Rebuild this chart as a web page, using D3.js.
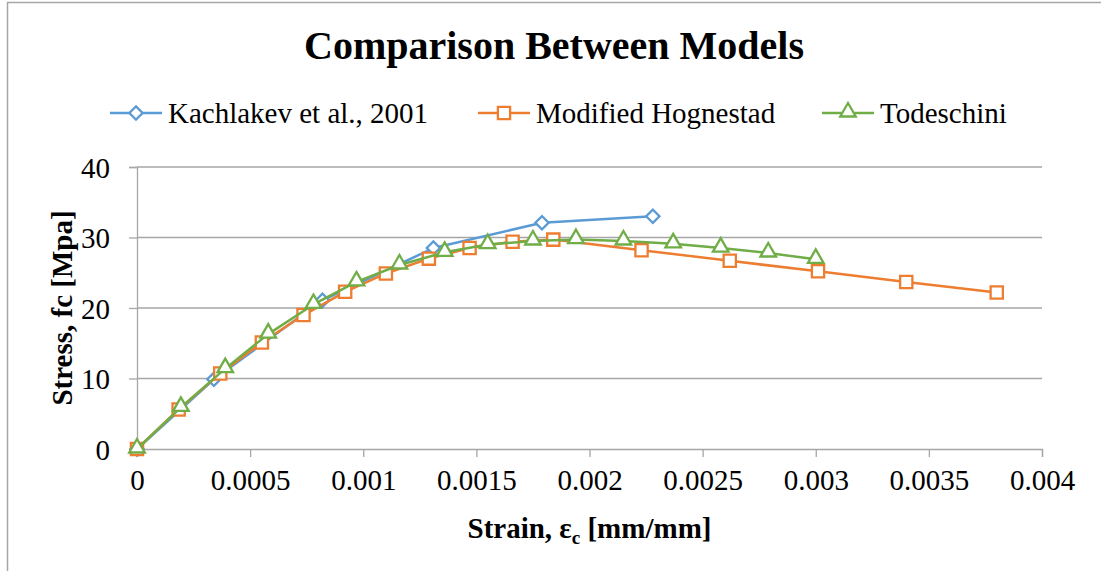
<!DOCTYPE html>
<html>
<head>
<meta charset="utf-8">
<script src="https://cdn.jsdelivr.net/npm/d3@7"></script>
<style>
  body { margin: 0; background: #fff; }
  svg { display: block; }
  svg text { font-family: "Liberation Serif", "Times New Roman", serif; }
</style>
</head>
<body>
<div id="chart"></div>
<script>
// values
const seriesNames = ['Kachlakev et al., 2001', 'Modified Hognestad', 'Todeschini'];

const kachStrain = [0, 0.00034, 0.00082, 0.00131, 0.00179, 0.00228];
const kachStress = [0, 9.9, 21.1, 28.5, 32.1, 33.0];

const hogStrain = [0, 0.000184, 0.000368, 0.000552, 0.000736, 0.00092, 0.0011, 0.00129,
  0.00147, 0.00166, 0.00184, 0.00223, 0.00262, 0.00301, 0.0034, 0.0038];
const hogStress = [0, 5.6, 10.7, 15.1, 19.0, 22.3, 24.9, 27.0,
  28.5, 29.4, 29.7, 28.2, 26.7, 25.2, 23.7, 22.2];

const todStrain = [0, 0.000194, 0.00039, 0.00058, 0.00078, 0.00097, 0.00116, 0.00136,
  0.00155, 0.00175, 0.00194, 0.00215, 0.00237, 0.00258, 0.00279, 0.003];
const todStress = [0, 5.9, 11.4, 16.3, 20.5, 23.7, 26.1, 27.9,
  29.0, 29.5, 29.7, 29.5, 29.1, 28.5, 27.8, 26.9];

const xTicks = [0, 0.0005, 0.001, 0.0015, 0.002, 0.0025, 0.003, 0.0035, 0.004];
const xTickLabels = ['0', '0.0005', '0.001', '0.0015', '0.002', '0.0025', '0.003', '0.0035', '0.004'];
const yTicks = [0, 10, 20, 30, 40];

const colors = ['#5b9bd5', '#ed7d31', '#70ad47'];

const w = 1101, h = 571;
const plot = { left: 137, right: 1042, top: 167, bottom: 449 };
const serif = '"Liberation Serif", "Times New Roman", serif';

const svg = d3.select('#chart').append('svg')
  .attr('width', w)
  .attr('height', h);

// chart frame
svg.append('rect')
  .attr('x', 7.5).attr('y', 2.5)
  .attr('width', w + 10).attr('height', h + 10)
  .attr('fill', '#fff')
  .attr('stroke', '#a6a6a6')
  .attr('stroke-width', 1.5);

const x = d3.scaleLinear().domain([0, 0.004]).range([plot.left, plot.right]);
const y = d3.scaleLinear().domain([0, 40]).range([plot.bottom, plot.top]);

// gridlines
svg.append('g')
  .selectAll('line')
  .data(yTicks.filter(d => d > 0))
  .enter()
  .append('line')
  .attr('x1', plot.left).attr('x2', plot.right)
  .attr('y1', d => y(d)).attr('y2', d => y(d))
  .attr('stroke', '#a6a6a6')
  .attr('stroke-width', 1.3);

// axes
const xAxis = svg.append('g')
  .attr('transform', `translate(0,${plot.bottom})`)
  .call(d3.axisBottom(x).tickValues(xTicks).tickFormat((d, i) => xTickLabels[i]).tickSize(8).tickPadding(12));

const yAxis = svg.append('g')
  .attr('transform', `translate(${plot.left},0)`)
  .call(d3.axisLeft(y).tickValues(yTicks).tickSize(8).tickPadding(19));

[xAxis, yAxis].forEach(a => {
  a.attr('font-family', serif).attr('font-size', 29);
  a.select('.domain').attr('stroke', '#a6a6a6').attr('stroke-width', 1.3);
  a.selectAll('.tick line').attr('stroke', '#a6a6a6').attr('stroke-width', 1.3);
  a.selectAll('.tick text').attr('fill', '#000');
});
yAxis.selectAll('.tick text').attr('dy', '0.35em');

const series = [
  { xs: kachStrain, ys: kachStress, shape: 'diamond' },
  { xs: hogStrain, ys: hogStress, shape: 'square' },
  { xs: todStrain, ys: todStress, shape: 'triangle' }
];

const line = d3.line().x(d => x(d[0])).y(d => y(d[1]));

markerPath = (shape) => {
  if (shape === 'diamond') return d3.symbol(d3.symbolSquare, 88)();
  if (shape === 'square') return d3.symbol(d3.symbolSquare, 150)();
  return d3.symbol(d3.symbolTriangle, 105)();
};

markerTransform = (shape, cx, cy) => {
  if (shape === 'diamond') return `translate(${cx},${cy}) rotate(45)`;
  if (shape === 'triangle') return `translate(${cx},${cy - 1})`;
  return `translate(${cx},${cy})`;
};

series.forEach((s, i) => {
  const pts = s.xs.map((v, j) => [v, s.ys[j]]);
  const g = svg.append('g');
  g.append('path')
    .attr('d', line(pts))
    .attr('fill', 'none')
    .attr('stroke', colors[i])
    .attr('stroke-width', 2.5)
    .attr('stroke-linejoin', 'round');
  g.selectAll('path.mk')
    .data(pts)
    .enter()
    .append('path')
    .attr('class', 'mk')
    .attr('d', markerPath(s.shape))
    .attr('transform', d => markerTransform(s.shape, x(d[0]), y(d[1])))
    .attr('fill', '#fff')
    .attr('stroke', colors[i])
    .attr('stroke-width', 2.3);
});

// title
svg.append('text')
  .attr('x', 554).attr('y', 59)
  .attr('text-anchor', 'middle')
  .attr('font-family', serif)
  .attr('font-size', 40)
  .attr('font-weight', 'bold')
  .text('Comparison Between Models');

// legend
const legendX = [110, 478, 822];
const legend = svg.append('g');
seriesNames.forEach((name, i) => {
  const lx = legendX[i], ly = 113;
  legend.append('line')
    .attr('x1', lx).attr('x2', lx + 52)
    .attr('y1', ly).attr('y2', ly)
    .attr('stroke', colors[i])
    .attr('stroke-width', 2.5);
  legend.append('path')
    .attr('d', markerPath(series[i].shape))
    .attr('transform', markerTransform(series[i].shape, lx + 26, ly))
    .attr('fill', '#fff')
    .attr('stroke', colors[i])
    .attr('stroke-width', 2.3);
  legend.append('text')
    .attr('x', lx + 58).attr('y', ly + 10)
    .attr('font-family', serif)
    .attr('font-size', 29)
    .text(name);
});

// axis titles
const xt = svg.append('text')
  .attr('x', (plot.left + plot.right) / 2).attr('y', 538)
  .attr('text-anchor', 'middle')
  .attr('font-family', serif)
  .attr('font-size', 29)
  .attr('font-weight', 'bold');
xt.append('tspan').text('Strain, ε');
xt.append('tspan').attr('dy', 6).attr('font-size', 19).text('c');
xt.append('tspan').attr('dy', -6).text(' [mm/mm]');

svg.append('text')
  .attr('transform', `translate(72,${(plot.top + plot.bottom) / 2}) rotate(-90)`)
  .attr('text-anchor', 'middle')
  .attr('font-family', serif)
  .attr('font-size', 29)
  .attr('font-weight', 'bold')
  .text('Stress, fc [Mpa]');
</script>
</body>
</html>
